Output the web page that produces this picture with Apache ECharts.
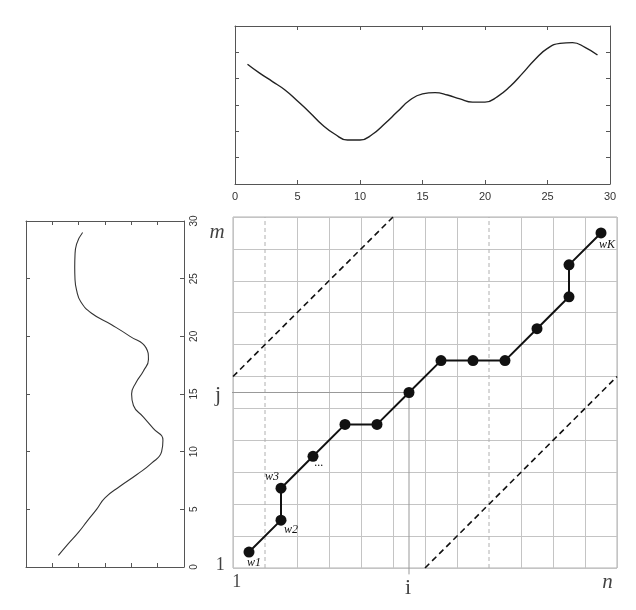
<!DOCTYPE html>
<html>
<head>
<meta charset="utf-8">
<script src="https://cdn.jsdelivr.net/npm/echarts@6/dist/echarts.min.js"></script>
<style>
  html, body { margin: 0; padding: 0; background: #fff; }
  #chart { width: 636px; height: 610px; }
</style>
</head>
<body>
<div id="chart"></div>
<script>
// series shown on the top panel (index 1..29)
var topIdx = [1,2,3,4,5,6,7,8,9,10,11,12,13,14,15,16,17,18,19,20,21,22,23,24,25,26,27,28,29];
var topVal = [4.55,4.2,3.89,3.57,3.15,2.71,2.24,1.89,1.67,1.67,1.89,2.3,2.75,3.19,3.42,3.47,3.38,3.23,3.11,3.11,3.32,3.7,4.2,4.73,5.15,5.34,5.37,5.19,4.9];

// series shown on the left panel (rotated, index runs upward)
var leftIdx = [1,2,3,4,5,6,7,8,9,10,11,12,13,14,15,16,17,18,19,20,21,22,23,24,25,26,27,28,29];
var leftVal = [1.23,1.6,1.99,2.33,2.68,3.0,3.57,4.2,4.77,5.15,5.2,4.84,4.46,4.08,4.01,4.18,4.46,4.65,4.56,3.95,3.25,2.49,2.08,1.92,1.86,1.85,1.86,1.92,2.15];

// warping path cells (column i, row j)
var pathI = [0,1,1,2,3,4,5,6,7,8,9,10,10,11];
var pathJ = [0,1,2,3,4,4,5,6,6,6,7,8,9,10];
var pathNames = ['w1','w2','w3','...','','','','','','','','','','wK'];

// warping window borders
var bandUpper = [[0,6],[5,11]];
var bandLower = [[6,0],[12,6]];
var dashedCols = [1, 8];

// axis annotations of the cost matrix
var notes = [['m',-0.5,10.5],['j',-0.47,5.4],['1',-0.4,0.1],['1',0.12,-0.45],['i',5.47,-0.62],['n',11.7,-0.45]];

var chart = echarts.init(document.getElementById('chart'));

var serif = 'Liberation Serif';
var frameCol = '#555';

function boxAxis(gi, pos, min, max, step, showLabel) {
  return {
    gridIndex: gi, type: 'value', position: pos, min: min, max: max, interval: step,
    axisLine: { show: true, onZero: false, lineStyle: { color: frameCol, width: 1 } },
    axisTick: { show: true, inside: true, length: 4, lineStyle: { color: frameCol } },
    axisLabel: { show: showLabel, color: '#333', fontSize: 11, fontFamily: 'Liberation Sans', margin: 7 },
    splitLine: { show: false }
  };
}

// split line colours: hide the ones drawn dashed on top
var colColours = [];
for (var c = 0; c <= 12; c++) colColours.push(dashedCols.indexOf(c) >= 0 ? 'rgba(0,0,0,0)' : '#c4c4c4');

var labelOffsets = { w1: [5, 11], w2: [10, 10], w3: [-9, -11], '...': [6, 7], wK: [6, 12] };
var pathData = pathI.map(function (c, k) {
  var item = { value: [c + 0.5, pathJ[k] + 0.5] };
  if (pathNames[k]) {
    item.label = {
      show: true, position: 'inside', offset: labelOffsets[pathNames[k]], formatter: pathNames[k],
      color: '#111', fontSize: 12, fontStyle: 'italic', fontFamily: serif
    };
  }
  return item;
});

var dashSeries = dashedCols.map(function (c) {
  return {
    type: 'line', xAxisIndex: 4, yAxisIndex: 4, data: [[c, 0], [c, 11]], symbol: 'none', silent: true,
    lineStyle: { color: '#b0b0b0', width: 1, type: [4, 3] }
  };
});

var noteData = notes.map(function (n) {
  var d = { value: [n[1], n[2]], name: n[0] };
  if (n[0] === 'm' || n[0] === 'n') d.label = { fontStyle: 'italic', fontSize: 21 };
  if (n[0] === '1') d.label = { fontSize: 18 };
  if (n[0] === 'j' || n[0] === 'i') d.label = { fontSize: 22 };
  return d;
});

var leftTicks = boxAxis(1, 'right', 0, 30, 5, true);
leftTicks.axisLabel.rotate = 90;
leftTicks.axisLabel.margin = 5;
leftTicks.axisLabel.fontSize = 10;

var option = {
  animation: false,
  grid: [
    { left: 235, top: 26, width: 375, height: 158 },
    { left: 26, top: 221, width: 158, height: 346 },
    { left: 233, top: 217, width: 384, height: 351, show: true, borderColor: '#b0b0b0', borderWidth: 1 }
  ],
  xAxis: [
    boxAxis(0, 'bottom', 0, 30, 5, true),
    boxAxis(0, 'top', 0, 30, 5, false),
    boxAxis(1, 'bottom', 0, 6, 1, false),
    boxAxis(1, 'top', 0, 6, 1, false),
    { gridIndex: 2, type: 'value', min: 0, max: 12, interval: 1,
      axisLine: { show: false }, axisTick: { show: false }, axisLabel: { show: false },
      splitLine: { show: true, lineStyle: { color: colColours, width: 1 } } }
  ],
  yAxis: [
    boxAxis(0, 'left', 0, 6, 1, false),
    boxAxis(0, 'right', 0, 6, 1, false),
    leftTicks,
    boxAxis(1, 'left', 0, 30, 5, false),
    { gridIndex: 2, type: 'value', min: 0, max: 11, interval: 1,
      axisLine: { show: false }, axisTick: { show: false }, axisLabel: { show: false },
      splitLine: { show: true, lineStyle: { color: '#c4c4c4', width: 1 } } }
  ],
  series: [
    { type: 'line', xAxisIndex: 0, yAxisIndex: 0, smooth: true, symbol: 'none',
      data: topIdx.map(function (x, k) { return [x, topVal[k]]; }),
      lineStyle: { color: '#222', width: 1.4 } },
    { type: 'line', xAxisIndex: 2, yAxisIndex: 2, smooth: true, symbol: 'none',
      data: leftIdx.map(function (t, k) { return [leftVal[k], t]; }),
      lineStyle: { color: '#333', width: 1.1 } }
  ].concat(dashSeries).concat([
    { type: 'line', xAxisIndex: 4, yAxisIndex: 4, data: bandUpper, symbol: 'none', silent: true,
      lineStyle: { color: '#111', width: 1.6, type: [6, 4] } },
    { type: 'line', xAxisIndex: 4, yAxisIndex: 4, data: bandLower, symbol: 'none', silent: true,
      lineStyle: { color: '#111', width: 1.6, type: [6, 4] } },
    // drop lines from the (i, j) cell
    { type: 'line', xAxisIndex: 4, yAxisIndex: 4, clip: false, symbol: 'none', silent: true,
      data: [[5.5, 5.5], [5.5, -0.2]], lineStyle: { color: '#999', width: 1 } },
    { type: 'line', xAxisIndex: 4, yAxisIndex: 4, clip: false, symbol: 'none', silent: true,
      data: [[5.5, 5.5], [-0.3, 5.5]], lineStyle: { color: '#999', width: 1 } },
    { type: 'line', xAxisIndex: 4, yAxisIndex: 4, data: pathData, symbol: 'circle', symbolSize: 11,
      itemStyle: { color: '#111' }, lineStyle: { color: '#111', width: 2 }, z: 5 },
    { type: 'scatter', xAxisIndex: 4, yAxisIndex: 4, clip: false, symbolSize: 0, silent: true,
      data: noteData,
      label: { show: true, position: 'inside', formatter: '{b}', color: '#111', fontFamily: serif, fontSize: 20 } }
  ])
};

chart.setOption(option);
</script>
</body>
</html>
